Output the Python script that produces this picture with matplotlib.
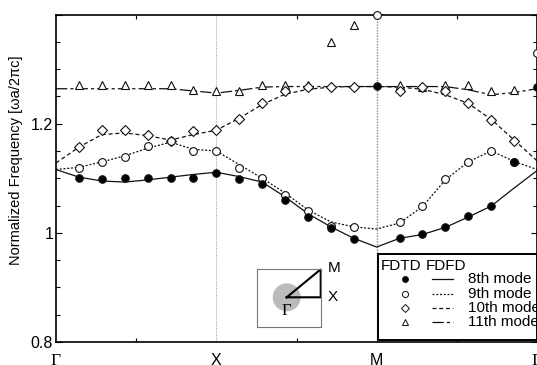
import numpy as np
import matplotlib
matplotlib.use("Agg")
import matplotlib.pyplot as plt
from matplotlib.patches import Rectangle, Circle

nan = np.nan
# path positions: Gamma(0) - X(1) - M(2) - Gamma(3), 7 steps per segment
path_pos = np.linspace(0, 3, 22)
sym_ticks = [0, 1, 2, 3]
sym_labels = ["Γ", "X", "M", "Γ"]

# FDTD (markers)
fdtd_8 = [nan, 1.100, 1.099, 1.100, 1.100, 1.100, 1.101, 1.110,
          1.099, 1.089, 1.060, 1.029, 1.009, 0.988, 1.269,
          0.991, 0.997, 1.010, 1.030, 1.049, 1.130, 1.268]
fdtd_9 = [nan, 1.119, 1.130, 1.139, 1.159, 1.169, 1.150, 1.150,
          1.119, 1.100, 1.070, 1.040, 1.012, 1.011, 1.399,
          1.019, 1.049, 1.099, 1.130, 1.150, 1.130, 1.329]
fdtd_10 = [nan, 1.158, 1.189, 1.189, 1.180, 1.169, 1.187, 1.189,
           1.209, 1.238, 1.259, 1.268, 1.268, 1.268, nan,
           1.259, 1.268, 1.259, 1.238, 1.207, 1.169, nan]
fdtd_11 = [nan, 1.270, 1.270, 1.270, 1.270, 1.270, 1.261, 1.260,
           1.259, 1.270, 1.270, 1.270, 1.349, 1.380, nan,
           1.270, 1.268, 1.270, 1.270, 1.259, 1.261, nan]

# FDFD (lines)
fdfd_8 = [1.116, 1.102, 1.095, 1.093, 1.097, 1.102, 1.107, 1.111,
          1.103, 1.093, 1.066, 1.035, 1.011, 0.990, 0.974,
          0.990, 0.997, 1.010, 1.029, 1.049, 1.082, 1.114]
fdfd_9 = [1.116, 1.120, 1.130, 1.141, 1.155, 1.166, 1.153, 1.150,
          1.125, 1.100, 1.073, 1.042, 1.020, 1.011, 1.007,
          1.018, 1.048, 1.097, 1.130, 1.150, 1.131, 1.116]
fdfd_10 = [1.128, 1.157, 1.180, 1.183, 1.178, 1.170, 1.180, 1.188,
           1.210, 1.235, 1.254, 1.263, 1.267, 1.268, 1.268,
           1.267, 1.263, 1.253, 1.237, 1.208, 1.170, 1.132]
fdfd_11 = [1.264, 1.264, 1.264, 1.264, 1.264, 1.264, 1.260, 1.256,
           1.261, 1.267, 1.268, 1.268, 1.268, 1.268, 1.268,
           1.268, 1.268, 1.268, 1.262, 1.253, 1.257, 1.264]

mode_labels = ["8th mode", "9th mode", "10th mode", "11th mode"]

W, H = 537, 365
fig = plt.figure(figsize=(W / 100, H / 100), dpi=100)
ax = fig.add_axes([56 / W, 1 - 342 / H, 481 / W, 327.5 / H])

font = "Liberation Sans"
ls9 = (0, (1.6, 1.4))
ls10 = (0, (3.2, 2.2))
ls11 = (0, (9, 2.5, 2.5, 2.5))
lc = "#111111"

ax.axvline(1, color="#aaaaaa", lw=0.8, ls=(0, (1, 1)), zorder=1)
ax.axvline(2, color="#888888", lw=1.0, ls=(0, (1, 1)), zorder=1)

ax.plot(path_pos, fdfd_8, color=lc, lw=0.9, ls="-", zorder=2)
ax.plot(path_pos, fdfd_9, color=lc, lw=0.9, ls=ls9, zorder=2)
ax.plot(path_pos, fdfd_10, color=lc, lw=0.9, ls=ls10, zorder=2)
ax.plot(path_pos, fdfd_11, color=lc, lw=0.9, ls=ls11, zorder=2)

mk = dict(ls="none", clip_on=False, markeredgewidth=0.8, markeredgecolor="#111111")
ax.plot(path_pos, fdtd_11, marker="^", ms=6.0, mfc="white", zorder=3, **mk)
ax.plot(path_pos, fdtd_10, marker="D", ms=4.6, mfc="white", zorder=4, **mk)
ax.plot(path_pos, fdtd_9, marker="o", ms=5.6, mfc="white", zorder=5, **mk)
ax.plot(path_pos, fdtd_8, marker="o", ms=5.4, mfc="black", zorder=6, **mk)

ax.set_xlim(0, 3)
ax.set_ylim(0.8, 1.4)
ax.set_xticks(sym_ticks)
ax.set_xticklabels(sym_labels)
ax.set_xticks([0.5, 1.5, 2.5], minor=True)
ax.set_yticks([0.8, 1.0, 1.2, 1.4])
ax.set_yticklabels(["0.8", "1", "1.2", ""])
ax.set_yticks(np.arange(0.8, 1.4001, 0.05), minor=True)
ax.tick_params(axis="both", which="both", direction="in", top=True, right=True)
ax.tick_params(axis="y", which="major", length=4.5, width=0.8, labelsize=11.5, pad=2)
ax.tick_params(axis="y", which="minor", length=3, width=0.8)
ax.tick_params(axis="x", which="major", length=0, labelsize=11.5, pad=8)
ax.tick_params(axis="x", which="minor", length=3, width=0.8)
for lab in ax.get_yticklabels() + ax.get_xticklabels():
    lab.set_fontfamily(font)
for lab in ax.get_xticklabels():
    if lab.get_text() == "Γ":
        lab.set_fontfamily("Liberation Serif")
        lab.set_fontsize(12.5)
for sp in ax.spines.values():
    sp.set_linewidth(1.2)

ax.set_ylabel("Normalized Frequency [ωa/2πc]", fontsize=10.5, fontfamily=font)
ax.yaxis.set_label_coords(-0.068, 0.554)

# legend (manual, in axes coords)
def axx(px):
    return (px - 56) / 481.0

def axy(py):
    return (342 - py) / 327.5

ax.add_patch(Rectangle((axx(378.3), axy(340)), 1.0 - axx(378.3), axy(254) - axy(340),
                       transform=ax.transAxes, fill=True, facecolor="white",
                       edgecolor="black", lw=1.4, zorder=10, clip_on=False))
tk = dict(transform=ax.transAxes, fontsize=11, fontfamily=font, va="center",
          ha="left", zorder=11, clip_on=False)
ax.text(axx(380.5), axy(266), "FDTD", **tk)
ax.text(axx(425.5), axy(266), "FDFD", **tk)
rows_py = [279.3, 294.3, 308.3, 322.3]
leg_markers = [("o", "black", 4.2), ("o", "white", 4.4), ("D", "white", 3.6), ("^", "white", 4.6)]
leg_ls = ["-", ls9, ls10, ls11]
for py, (m, fc, s), lsx, lab in zip(rows_py, leg_markers, leg_ls, mode_labels):
    ax.plot([axx(405)], [axy(py)], marker=m, mfc=fc, ms=s, mec="#111111", mew=0.7,
            transform=ax.transAxes, zorder=11, clip_on=False, ls="none")
    ax.plot([axx(431.5), axx(453)], [axy(py), axy(py)], color=lc, lw=0.9, ls=lsx,
            transform=ax.transAxes, zorder=11, clip_on=False)
    ax.text(axx(468), axy(py), lab, **tk)

# inset: Brillouin zone sketch
ins_l, ins_r, ins_t, ins_b = 256.7, 320.7, 269.3, 326.7
iw, ih = ins_r - ins_l, ins_b - ins_t
iax = fig.add_axes([ins_l / W, 1 - ins_b / H, iw / W, ih / H])
iax.set_xlim(0, iw)
iax.set_ylim(0, ih)
iax.set_xticks([])
iax.set_yticks([])
for sp in iax.spines.values():
    sp.set_color("#777777")
    sp.set_linewidth(0.8)
gx, gy = 286.7 - ins_l, ins_b - 297.3
iax.add_patch(Circle((gx, gy), 13.3, color="#bbbbbb", zorder=1))
iax.plot([gx, iw, iw, gx], [gy, gy, ih, gy], color="black", lw=1.5, zorder=2,
         clip_on=False, solid_joinstyle="miter")
iax.text(iw + 7, ih + 1, "M", fontsize=11, fontfamily=font, ha="left", va="center", clip_on=False)
iax.text(iw + 7, gy, "X", fontsize=11, fontfamily=font, ha="left", va="center", clip_on=False)
iax.text(gx, gy - 14, "Γ", fontsize=12, fontfamily="Liberation Serif", ha="center",
         va="center", clip_on=False)

fig.savefig("out.png", dpi=100, facecolor="white")
